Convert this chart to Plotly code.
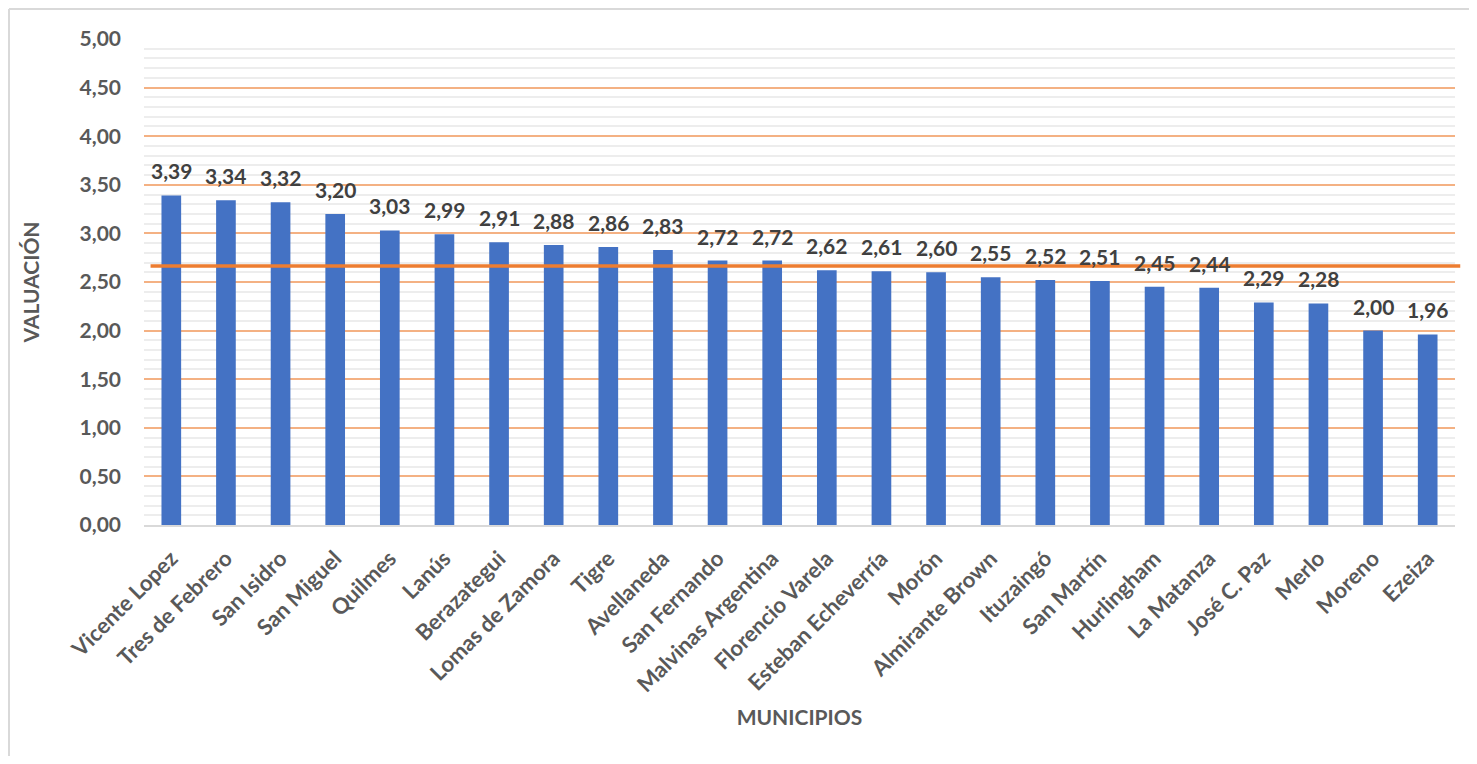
import plotly.graph_objects as go

municipios = ["Vicente Lopez", "Tres de Febrero", "San Isidro", "San Miguel", "Quilmes", "Lanús",
              "Berazategui", "Lomas de Zamora", "Tigre", "Avellaneda", "San Fernando",
              "Malvinas Argentina", "Florencio Varela", "Esteban Echeverría", "Morón",
              "Almirante Brown", "Ituzaingó", "San Martín", "Hurlingham", "La Matanza",
              "José C. Paz", "Merlo", "Moreno", "Ezeiza"]
valuacion = [3.39, 3.34, 3.32, 3.20, 3.03, 2.99, 2.91, 2.88, 2.86, 2.83, 2.72, 2.72,
             2.62, 2.61, 2.60, 2.55, 2.52, 2.51, 2.45, 2.44, 2.29, 2.28, 2.00, 1.96]
promedio = 2.665

FONT = "Lato"
GREY = "#595959"

fig = go.Figure()
fig.add_trace(go.Bar(x=municipios, y=valuacion, marker_color="#4472C4",
                     marker_line_width=0, hoverinfo="x+y"))

for m, v in zip(municipios, valuacion):
    fig.add_annotation(x=m, y=v, text=f"{v:.2f}".replace(".", ","), showarrow=False,
                       yanchor="bottom", yshift=10,
                       font=dict(family=FONT, size=21, color="#404040", weight="bold"))

fig.add_shape(type="line", xref="paper", yref="y", x0=0.005, x1=1.004, y0=promedio, y1=promedio,
              line=dict(color="#ED7D31", width=3.5), layer="above")

# chart border (only top and left edges are visible in the frame)
bx = (1 - 136) / 1311
by = 1.0617
fig.add_shape(type="line", xref="paper", yref="paper", x0=bx, x1=1.2, y0=by, y1=by,
              line=dict(color="#D9D9D9", width=2), layer="below")
fig.add_shape(type="line", xref="paper", yref="paper", x0=bx, x1=bx, y0=-1.0, y1=by,
              line=dict(color="#D9D9D9", width=2), layer="below")

fig.update_layout(
    width=1461, height=748,
    margin=dict(l=136, r=14, t=31, b=231),
    paper_bgcolor="white", plot_bgcolor="white",
    separators=",.",
    bargap=0.64,
    showlegend=False,
    font=dict(family=FONT, color=GREY),
)
fig.update_yaxes(range=[0, 5], dtick=0.5, tickformat=".2f",
                 showgrid=True, gridcolor="#F4B183", gridwidth=2,
                 minor=dict(dtick=0.1, showgrid=True, gridcolor="#EDEDED", gridwidth=1.5),
                 zeroline=False, showline=False, ticks="", ticklabelstandoff=22,
                 tickfont=dict(family=FONT, size=21, color=GREY, weight="bold"),
                 title=dict(text="VALUACIÓN", standoff=34,
                            font=dict(family=FONT, size=21, color=GREY, weight="bold")))
fig.update_xaxes(tickangle=-45, showline=True, linecolor="#D9D9D9", linewidth=2,
                 showgrid=False, ticks="", ticklabelstandoff=10,
                 tickfont=dict(family=FONT, size=22, color=GREY, weight="bold"),
                 title=dict(text="MUNICIPIOS", standoff=14,
                            font=dict(family=FONT, size=21, color=GREY, weight="bold")))

fig.write_html("out.html")
